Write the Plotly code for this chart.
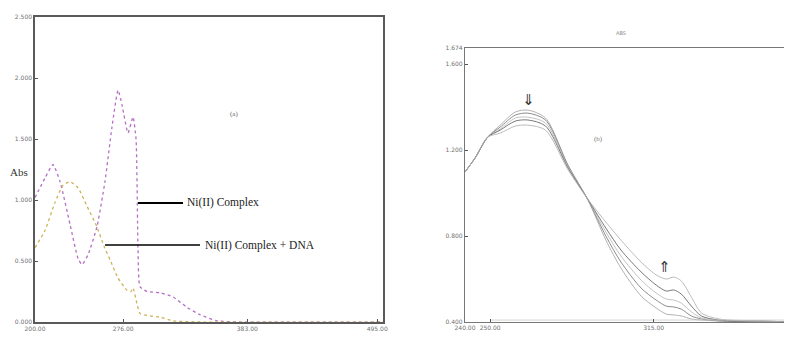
import plotly.graph_objects as go

# Page body has an 8px margin: the figure occupies window pixels 8..792 x 8..338
OFF = 8
W, H = 792 - OFF, 338 - OFF

# ---- Left panel: Ni(II) complex vs Ni(II) complex + DNA ----
wl_a = [200.0, 208.6, 215.5, 221.6, 230.2, 237.1, 240.5, 245.7, 253.4, 260.3, 266.4, 271.6,
        275.0, 280.2, 284.5, 287.1, 288.8, 290.5, 296.6, 307.8, 319.0, 331.0, 342.2, 356.9,
        376.7, 500.0]
abs_complex = [1.02, 1.18, 1.29, 1.15, 0.80, 0.52, 0.47, 0.55, 0.78, 1.15, 1.60, 1.90,
               1.78, 1.55, 1.68, 1.50, 0.60, 0.29, 0.25, 0.24, 0.205, 0.12, 0.06, 0.01,
               0.0, 0.0]
wl_b = [200.0, 208.6, 217.2, 224.1, 230.2, 237.1, 244.8, 253.4, 259.5, 264.7, 271.6, 279.3,
        282.8, 284.5, 287.9, 290.5, 299.1, 307.8, 319.0, 342.2, 500.0]
abs_complex_dna = [0.61, 0.75, 0.98, 1.12, 1.15, 1.10, 0.95, 0.78, 0.62, 0.51, 0.36, 0.26,
                   0.25, 0.28, 0.15, 0.07, 0.05, 0.04, 0.01, 0.0, 0.0]
left_xticks = [200, 276, 383, 495]
left_xticklabels = ["200.00", "276.00", "383.00", "495.00"]
left_yticks = [0.0, 0.5, 1.0, 1.5, 2.0, 2.5]
left_yticklabels = ["0.000", "0.500", "1.000", "1.500", "2.000", "2.500"]

# ---- Right panel: titration spectra ----
wl_r = [240, 244, 249, 254, 260, 265, 272, 281, 289, 296, 302, 310, 316, 320, 323, 326,
        330, 334, 341, 357, 370]
spectra = [
    [1.098, 1.163, 1.260, 1.316, 1.377, 1.386, 1.349, 1.130, 0.965, 0.781, 0.651, 0.521,
     0.465, 0.437, 0.433, 0.428, 0.414, 0.409, 0.405, 0.400, 0.400],
    [1.098, 1.163, 1.260, 1.307, 1.363, 1.372, 1.340, 1.126, 0.966, 0.800, 0.679, 0.558,
     0.502, 0.474, 0.470, 0.460, 0.428, 0.414, 0.405, 0.400, 0.400],
    [1.098, 1.163, 1.260, 1.298, 1.349, 1.353, 1.326, 1.121, 0.967, 0.819, 0.707, 0.595,
     0.535, 0.507, 0.502, 0.488, 0.447, 0.419, 0.409, 0.405, 0.400],
    [1.098, 1.163, 1.260, 1.293, 1.335, 1.340, 1.312, 1.116, 0.968, 0.837, 0.735, 0.633,
     0.572, 0.544, 0.549, 0.530, 0.474, 0.428, 0.409, 0.405, 0.400],
    [1.098, 1.163, 1.260, 1.279, 1.312, 1.316, 1.293, 1.107, 0.969, 0.865, 0.781, 0.679,
     0.619, 0.600, 0.609, 0.591, 0.516, 0.442, 0.414, 0.405, 0.400],
]
baseline_wl = [250, 370]
baseline_abs = [0.409, 0.409]
right_xticks = [240, 250, 315, 369]
right_xticklabels = ["240.00", "250.00", "315.00", "369.00"]
right_yticks = [0.4, 0.8, 1.2, 1.6, 1.674]
right_yticklabels = ["0.400", "0.800", "1.200", "1.600", "1.674"]

spec_colors = ["#a8a8a8", "#808080", "#bcbcbc", "#6a6a6a", "#b4b4b4"]


def px(x):
    return (x - OFF) / W


def py(y):
    return (H - (y - OFF)) / H


fig = go.Figure()
fig.add_trace(go.Scatter(x=wl_a, y=abs_complex, mode="lines", name="Ni(II) Complex",
                         line=dict(color="#b56fc4", width=1.3, dash="dot", shape="spline", smoothing=0.5),
                         xaxis="x", yaxis="y"))
fig.add_trace(go.Scatter(x=wl_b, y=abs_complex_dna, mode="lines", name="Ni(II) Complex + DNA",
                         line=dict(color="#cdb45a", width=1.3, dash="dot", shape="spline", smoothing=0.5),
                         xaxis="x", yaxis="y"))
for i, s in enumerate(spectra):
    fig.add_trace(go.Scatter(x=wl_r, y=s, mode="lines",
                             line=dict(color=spec_colors[i], width=0.9, shape="spline", smoothing=0.8),
                             xaxis="x2", yaxis="y2", showlegend=False))
fig.add_trace(go.Scatter(x=baseline_wl, y=baseline_abs, mode="lines",
                         line=dict(color="#c8c8c8", width=0.8), xaxis="x2", yaxis="y2"))

tickfont = dict(family="DejaVu Sans", size=6, color="#707070")
axis_common = dict(showgrid=False, zeroline=False, showline=True, mirror=True, automargin=False,
                   ticks="inside", ticklen=3, tickcolor="#555", tickfont=tickfont)

fig.update_layout(
    template="none",
    width=W, height=H, autosize=False,
    margin=dict(l=0, r=0, t=0, b=0, pad=0),
    paper_bgcolor="white", plot_bgcolor="white",
    showlegend=False,
    xaxis=dict(domain=[px(35), px(383)], range=[200, 500], tickvals=left_xticks,
               ticktext=left_xticklabels, linecolor="#5a5a5a", linewidth=1.5,
               anchor="y", **axis_common),
    yaxis=dict(domain=[py(322), py(17)], range=[0, 2.5], tickvals=left_yticks,
               ticktext=left_yticklabels, linecolor="#5a5a5a", linewidth=1.5,
               anchor="x", **axis_common),
    xaxis2=dict(domain=[px(465), 1.0], range=[240, 370.0], tickvals=right_xticks,
                ticktext=right_xticklabels, linecolor="#777", linewidth=1.2,
                anchor="y2", **axis_common),
    yaxis2=dict(domain=[py(322), py(48)], range=[0.4, 1.675], tickvals=right_yticks,
                ticktext=right_yticklabels, linecolor="#777", linewidth=1.2,
                anchor="x2", **axis_common),
)

serif = "Liberation Serif"
anns = [
    dict(x=px(8), y=py(172), text="Abs", xanchor="left", font=dict(family=serif, size=11, color="#333")),
    dict(x=px(185), y=py(202), text="Ni(II) Complex", xanchor="left",
         font=dict(family=serif, size=11.5, color="#222")),
    dict(x=px(203), y=py(245), text="Ni(II) Complex + DNA", xanchor="left",
         font=dict(family=serif, size=11.5, color="#222")),
    dict(x=px(228), y=py(114), text="(a)", font=dict(family=serif, size=7, color="#666")),
    dict(x=px(605), y=py(139), text="(b)", font=dict(family=serif, size=7, color="#777")),
    dict(x=px(628), y=py(33), text="ABS", font=dict(family="DejaVu Sans", size=5, color="#888")),
    dict(x=px(528), y=py(100), text="⇓", font=dict(family="DejaVu Sans", size=15, color="#333")),
    dict(x=px(673), y=py(267), text="⇑", font=dict(family="DejaVu Sans", size=15, color="#333")),
]
for a in anns:
    a.update(xref="paper", yref="paper", showarrow=False, yanchor="middle")
    fig.add_annotation(**a)

fig.add_shape(type="line", xref="paper", yref="paper", x0=px(138), x1=px(183), y0=py(203), y1=py(203),
              line=dict(color="black", width=2.2))
fig.add_shape(type="line", xref="paper", yref="paper", x0=px(105), x1=px(200), y0=py(245), y1=py(245),
              line=dict(color="black", width=1.6))

fig.write_html("out.html")
